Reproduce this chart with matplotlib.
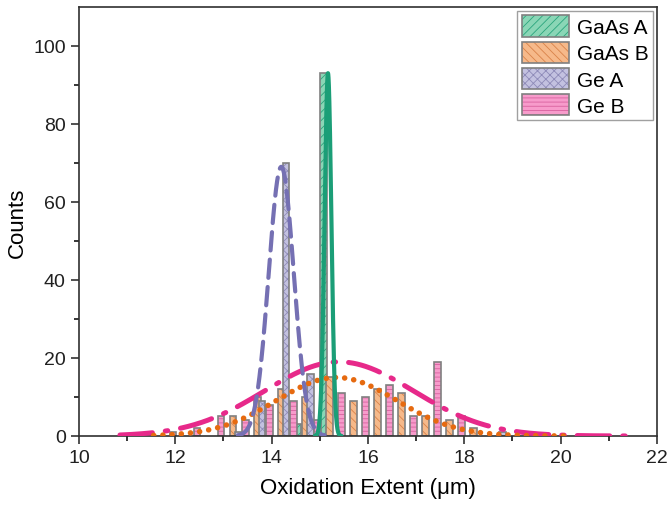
import numpy as np
import matplotlib
matplotlib.use('Agg')
import matplotlib.pyplot as plt
from matplotlib.patches import Patch
from matplotlib.legend_handler import HandlerTuple

plt.rcParams['font.family'] = ['Liberation Sans', 'DejaVu Sans']
plt.rcParams['hatch.linewidth'] = 0.6

# histogram bars (bin position, counts)
gaas_a_x = [14.55, 15.07]
gaas_a_n = [3, 93]
gaas_b_x = [13.2, 13.7, 14.2, 14.7, 15.2, 15.7, 16.2, 16.7, 17.2, 17.7, 18.2]
gaas_b_n = [5, 10, 12, 10, 15, 9, 12, 11, 5, 4, 2]
ge_a_x = [13.3, 13.8, 14.3, 14.8, 18.8]
ge_a_n = [1, 9, 70, 16, 1]
ge_b_x = [11.95, 12.45, 12.95, 13.45, 13.95, 14.45, 14.95, 15.45, 15.95, 16.45, 16.95, 17.45, 17.95]
ge_b_n = [1, 2, 5, 4, 8, 9, 4, 11, 10, 13, 5, 19, 5]

# gaussian fits: amplitude, centre, sigma, plotted range
labels = ['GaAs A', 'GaAs B', 'Ge A', 'Ge B']
fit_amp = [93, 15, 69, 19]
fit_center = [15.17, 15.35, 14.2, 15.4]
fit_sigma = [0.07, 1.25, 0.26, 1.55]
fit_lo = [14.9, 11.55, 13.3, 10.85]
fit_hi = [15.45, 20.15, 15.1, 21.35]

fills = ['#8ad6b6', '#f6b98a', '#c3c1e0', '#f79bcb']
hatch_cols = ['#2aa57c', '#d9824a', '#8e8ab8', '#d8609e']
hatches = ['////', '\\\\\\\\', 'xxxx', '----']
line_cols = ['#1b9e77', '#e66a10', '#7570b3', '#e7298a']
edge = '#808080'
bar_w = 0.14

fig = plt.figure(figsize=(6.68, 5.06), dpi=100)
ax = fig.add_axes([0.1183, 0.1364, 0.865, 0.848])

bar_x = [gaas_a_x, gaas_b_x, ge_a_x, ge_b_x]
bar_n = [gaas_a_n, gaas_b_n, ge_a_n, ge_b_n]
for i in range(4):
    ax.bar(bar_x[i], bar_n[i], width=bar_w, color=fills[i], hatch=hatches[i],
           edgecolor=hatch_cols[i], linewidth=0, zorder=2)
    ax.bar(bar_x[i], bar_n[i], width=bar_w, fill=False, edgecolor=edge,
           linewidth=1.2, zorder=2)

styles = ['-', (0, (0.01, 1.65)), (0, (4.4, 2.2)), (0, (6.5, 2.6, 0.5, 2.6))]
widths = [3.0, 4.0, 3.0, 3.6]
order = [3, 1, 2, 0]
for i in order:
    xx = np.linspace(fit_lo[i], fit_hi[i], 600)
    yy = fit_amp[i] * np.exp(-0.5 * ((xx - fit_center[i]) / fit_sigma[i]) ** 2)
    ax.plot(xx, yy, color=line_cols[i], linestyle=styles[i], linewidth=widths[i],
            dash_capstyle='round', solid_capstyle='round', zorder=3 + (i == 0))

ax.set_xlim(10, 22)
ax.set_ylim(0, 110)
ax.set_xticks(np.arange(10, 23, 2))
ax.set_xticks(np.arange(11, 22, 2), minor=True)
ax.set_yticks(np.arange(0, 101, 20))
ax.set_yticks(np.arange(10, 101, 20), minor=True)
ax.tick_params(which='major', direction='out', length=6, width=1.1, labelsize=14, colors='#202020')
ax.tick_params(which='minor', direction='out', length=3.5, width=1.1)
for s in ax.spines.values():
    s.set_linewidth(1.2)
    s.set_color('#303030')

ax.set_xlabel('Oxidation Extent (\u03bcm)', fontsize=16, labelpad=8)
ax.set_ylabel('Counts', fontsize=16, labelpad=4)

handles = []
for i in range(4):
    p1 = Patch(facecolor=fills[i], hatch=hatches[i], edgecolor=hatch_cols[i], linewidth=0)
    p2 = Patch(fill=False, edgecolor=edge, linewidth=1.2)
    handles.append((p1, p2))
leg = ax.legend(handles, labels, handler_map={tuple: HandlerTuple(ndivide=1)},
                loc='upper right', fontsize=15, fancybox=False, framealpha=1,
                edgecolor='#a0a0a0', handlelength=2.3, handleheight=1.2,
                labelspacing=0.22, handletextpad=0.35, borderpad=0.2,
                borderaxespad=0.2)
leg.get_frame().set_linewidth(1.0)

fig.savefig('out.png', dpi=100)
